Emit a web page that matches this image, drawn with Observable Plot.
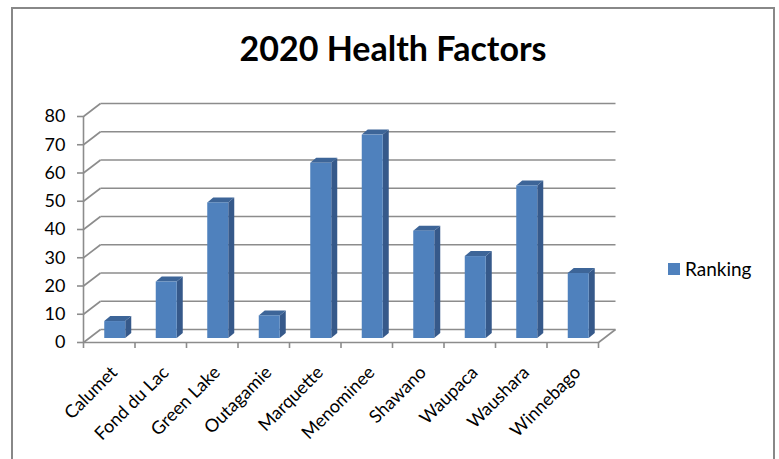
<!DOCTYPE html>
<html><head><meta charset="utf-8">
<script src="https://cdn.jsdelivr.net/npm/d3@7"></script>
<script src="https://cdn.jsdelivr.net/npm/@observablehq/plot@0.6"></script>
<style>
body{margin:0;background:#fff;}
#wrap{position:relative;width:779px;height:459px;overflow:hidden;font-family:Lato,"Open Sans",sans-serif;}
#frame{position:absolute;left:11px;top:7px;width:764px;height:480px;border:2px solid #888;box-sizing:border-box;}
#title{position:absolute;left:11px;width:764px;top:28px;text-align:center;font-weight:bold;font-size:34px;line-height:40px;color:#000;}
#legend{position:absolute;left:668px;top:258px;font-size:19px;line-height:22px;color:#000;display:flex;align-items:center;}
#legend .sw{display:inline-block;width:12px;height:12px;background:#4f81bd;margin-right:5px;}
#chart{position:absolute;left:0;top:0;}
</style></head>
<body>
<div id="wrap">
  <div id="frame"></div>
  <div id="chart"></div>
  <div id="title">2020 Health Factors</div>
  <div id="legend"><span class="sw"></span><span>Ranking</span></div>
</div>
<script>
const categories = ["Calumet","Fond du Lac","Green Lake","Outagamie","Marquette","Menominee","Shawano","Waupaca","Waushara","Winnebago"];
const values = [6, 20, 48, 8, 62, 72, 38, 29, 54, 23];
const yTicks = [0, 10, 20, 30, 40, 50, 60, 70, 80];
const seriesName = "Ranking";

const W = 779, H = 459, mL = 83, mR = 181, mT = 116, mB = 117;
const pxX = (W - mL - mR) / categories.length;   // px per category
const pxY = (H - mT - mB) / 80;                  // px per unit
const ux = p => p / pxX, uy = p => p / pxY;
const n = categories.length;
const ox = ux(17), oy = uy(13);   // back-wall depth offset
const base = uy(4);               // bar base sits slightly behind front
const dd = ux(6), dz = uy(5);     // bar depth
const fl = ux(-4.5), fr = ux(16.5);

const bars = categories.map((c, i) => ({c, i, v: values[i]}));
const sidePts = bars.flatMap(d => [
  {i: d.i, x: d.i + 0.5 + fr, y1: base, y2: base + d.v},
  {i: d.i, x: d.i + 0.5 + fr + dd, y1: base + dz, y2: base + d.v + dz}
]);
const topPts = bars.flatMap(d => [
  {i: d.i, y: base + d.v, x1: d.i + 0.5 + fl, x2: d.i + 0.5 + fr},
  {i: d.i, y: base + d.v + dz, x1: d.i + 0.5 + fl + dd, x2: d.i + 0.5 + fr + dd}
]);
const boundaries = d3.range(n + 1);
const centers = d3.range(n).map(i => i + 0.5);
const grid = "#8c8c8c";

const chart = Plot.plot({
  width: W, height: H,
  marginLeft: mL, marginRight: mR, marginTop: mT, marginBottom: mB,
  style: {fontFamily: "Lato, 'Open Sans', sans-serif", background: "transparent", overflow: "visible", color: "#000"},
  x: {domain: [0, n], axis: null},
  y: {domain: [0, 80], axis: null},
  marks: [
    Plot.link(yTicks, {x1: () => ox, x2: () => n + ox, y1: d => d + oy, y2: d => d + oy, stroke: grid, strokeWidth: 1.6}),
    Plot.link(yTicks, {x1: () => 0, x2: () => ox, y1: d => d, y2: d => d + oy, stroke: grid, strokeWidth: 1.6}),
    Plot.link([0], {x1: () => n, x2: () => n + ox, y1: () => 0, y2: () => oy, stroke: grid, strokeWidth: 1.6}),
    Plot.ruleY([0], {x1: 0, x2: n, stroke: grid, strokeWidth: 1.6}),
    Plot.ruleX([0], {y1: 0, y2: 80, stroke: grid, strokeWidth: 1.6}),
    Plot.areaY(sidePts, {x: "x", y1: "y1", y2: "y2", z: "i", fill: "#36598a"}),
    Plot.areaX(topPts, {y: "y", x1: "x1", x2: "x2", z: "i", fill: "#3d6598"}),
    Plot.rect(bars, {x1: d => d.i + 0.5 + fl, x2: d => d.i + 0.5 + fr, y1: () => base, y2: d => base + d.v, fill: "#4f81bd"}),
    Plot.axisY(yTicks, {anchor: "left", tickSize: 6, tickPadding: 12, fontSize: 18, stroke: grid, strokeWidth: 1.6, fill: "#000"}),
    Plot.axisX(boundaries, {anchor: "bottom", tickSize: 6, tickFormat: () => "", stroke: grid, strokeWidth: 1.6}),
    Plot.axisX(centers, {anchor: "bottom", tickSize: 0, tickPadding: 18, tickRotate: -45, textAnchor: "end",
      dx: 5, dy: 9,
      tickFormat: d => categories[Math.floor(d)], fontSize: 18, fill: "#000"})
  ]
});
document.getElementById("chart").appendChild(chart);
</script>
</body></html>
